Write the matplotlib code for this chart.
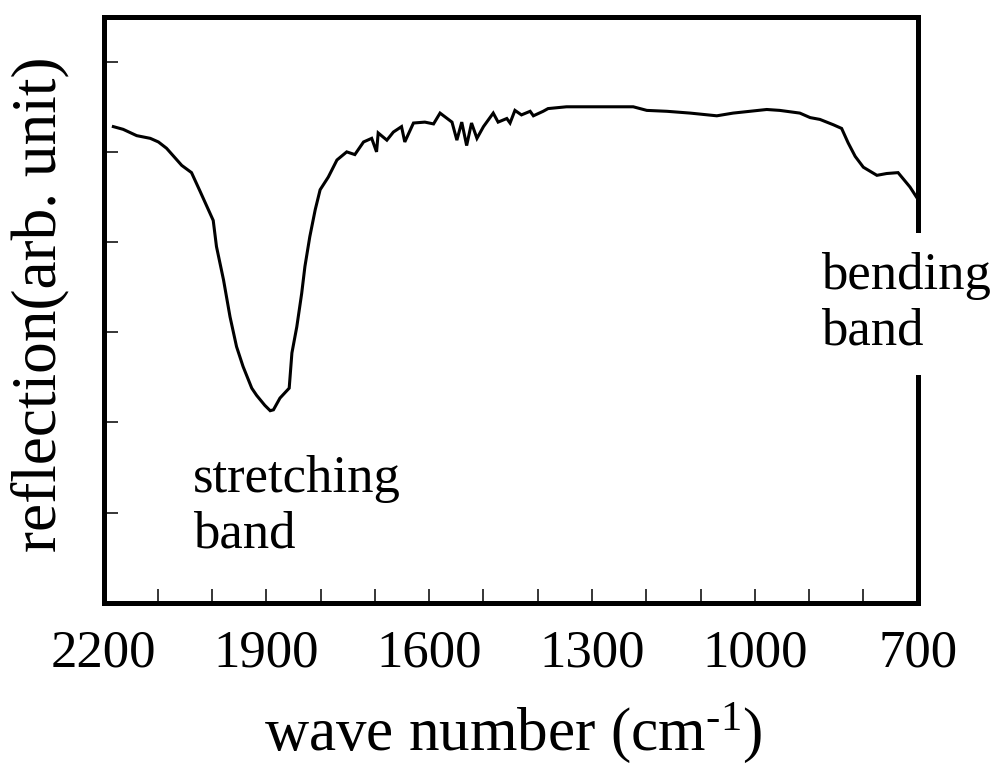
import matplotlib
matplotlib.use("Agg")
import matplotlib.pyplot as plt
import numpy as np

plt.rcParams['font.family'] = ['Liberation Serif', 'DejaVu Serif']
plt.rcParams['mathtext.fontset'] = 'custom'
plt.rcParams['mathtext.rm'] = 'Liberation Serif'
plt.rcParams['mathtext.it'] = 'Liberation Serif:italic'

# ---- data ----
wavenumber = [2182, 2164, 2139, 2114, 2099, 2084, 2056, 2038, 2022, 2004, 1998, 1992,
              1979, 1967, 1955, 1943, 1927, 1918, 1903, 1893, 1887, 1875, 1858, 1853,
              1844, 1835, 1829, 1820, 1810, 1801, 1786, 1770, 1752, 1737, 1721, 1706,
              1697, 1694, 1678, 1666, 1651, 1645, 1629, 1608, 1592, 1580, 1558, 1549,
              1540, 1531, 1522, 1512, 1500, 1482, 1473, 1457, 1451, 1442, 1430, 1414,
              1408, 1390, 1381, 1347, 1310, 1224, 1199, 1162, 1119, 1070, 1040, 1009,
              978, 954, 917, 898, 880, 855, 840, 828, 815, 800, 775, 757, 736, 714, 700]
reflection = [5.28, 5.25, 5.18, 5.15, 5.11, 5.04, 4.85, 4.77, 4.56, 4.32, 4.24, 3.95,
              3.58, 3.17, 2.84, 2.62, 2.38, 2.30, 2.19, 2.13, 2.14, 2.27, 2.38, 2.77,
              3.06, 3.43, 3.73, 4.06, 4.36, 4.58, 4.72, 4.91, 5.00, 4.97, 5.11, 5.15,
              5.00, 5.21, 5.13, 5.22, 5.28, 5.11, 5.32, 5.33, 5.31, 5.43, 5.33, 5.13,
              5.33, 5.07, 5.32, 5.15, 5.28, 5.43, 5.33, 5.37, 5.32, 5.46, 5.41, 5.45,
              5.40, 5.45, 5.48, 5.50, 5.50, 5.50, 5.46, 5.45, 5.43, 5.40, 5.43, 5.45,
              5.47, 5.46, 5.43, 5.38, 5.36, 5.30, 5.26, 5.10, 4.95, 4.83, 4.74, 4.76,
              4.77, 4.61, 4.48]
major_ticks = [2200, 1900, 1600, 1300, 1000, 700]
major_labels = ["2200", "1900", "1600", "1300", "1000", "700"]
minor_ticks = list(range(2100, 700, -100))
y_ticks = [1, 2, 3, 4, 5, 6]

W, H = 997, 766
fig = plt.figure(figsize=(W / 100, H / 100), dpi=100)
L, R, T, B = 103.6, 917.6, 16.6, 602.8
ax = fig.add_axes([L / W, 1 - B / H, (R - L) / W, (B - T) / H])

ax.plot(wavenumber, reflection, color='black', lw=2.2, solid_joinstyle='miter')

ax.set_xlim(2200, 700)
ax.set_ylim(0, 6.5)

ax.set_xticks(major_ticks)
ax.set_xticklabels(major_labels)
ax.set_xticks(minor_ticks, minor=True)
ax.set_yticks(y_ticks)
ax.set_yticklabels([])

ax.tick_params(axis='both', which='both', direction='in', length=10, width=1.1,
               top=False, right=False, colors='black')
ax.tick_params(axis='x', which='major', labelsize=38, pad=19)

for sp in ax.spines.values():
    sp.set_linewidth(3.6)
    sp.set_capstyle('projecting')

ax.set_xlabel(r'wave number (cm$^{\text{-1}}$)', fontsize=44, va='baseline')
ax.xaxis.set_label_coords((513 - L) / (R - L), -(750 - B) / (B - T))
ax.set_ylabel('reflection(arb. unit)', fontsize=45.5)
ax.yaxis.set_label_coords(-(L - 69) / (R - L), (B - 304) / (B - T))

ax.text(2035, 0.608, 'stretching\nband', fontsize=38, ha='left', va='baseline',
        linespacing=1.21)
ax.text(878, 2.859, 'bending\nband', fontsize=38, ha='left', va='baseline',
        linespacing=1.21, zorder=6, clip_on=False,
        bbox=dict(boxstyle='square,pad=0.37', facecolor='white', edgecolor='none'))

fig.savefig('out.png', dpi=100)
